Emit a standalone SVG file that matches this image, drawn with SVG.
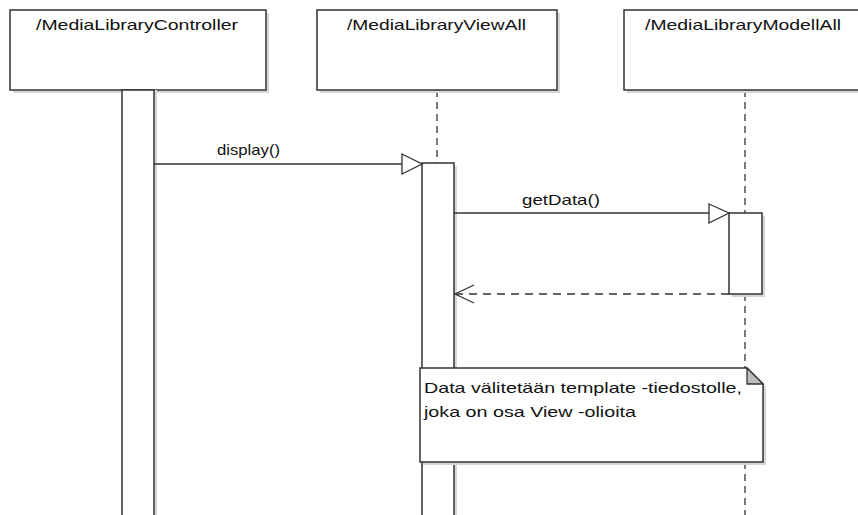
<svg xmlns="http://www.w3.org/2000/svg" width="858" height="515" viewBox="0 0 858 515">
<defs>
<style>
.box{fill:#fff;stroke:#333;stroke-width:1.5}
.shadow{fill:#d6d6d6}
.txt{font-family:"Liberation Sans",Arial,sans-serif;font-size:14.5px;fill:#111}
.life{stroke:#333;stroke-width:1.3;stroke-dasharray:7 5;fill:none}
.msg{stroke:#333;stroke-width:1.3;fill:none}
.ret{stroke:#333;stroke-width:1.3;stroke-dasharray:8 6;fill:none}
.head{fill:#fff;stroke:#333;stroke-width:1.3}
</style>
</defs>
<rect width="858" height="515" fill="#fff"/>
<g id="lifelines">
<line class="life" x1="437" y1="90" x2="437" y2="163"/>
<line class="life" x1="745" y1="90" x2="745" y2="213"/>
<line class="life" x1="745" y1="294" x2="745" y2="515"/>
</g>
<g id="controller">
<rect class="shadow" x="13" y="13" width="256" height="80"/>
<rect class="box" x="10" y="10" width="256" height="80"/>
<text class="txt" x="36" y="30" textLength="202" lengthAdjust="spacingAndGlyphs">/MediaLibraryController</text>
<rect class="shadow" x="125" y="90" width="32" height="430"/>
<rect class="box" x="122" y="90" width="32" height="430"/>
</g>
<g id="viewall">
<rect class="shadow" x="320" y="13" width="240" height="80"/>
<rect class="box" x="317" y="10" width="240" height="80"/>
<text class="txt" x="347" y="30" textLength="179" lengthAdjust="spacingAndGlyphs">/MediaLibraryViewAll</text>
<rect class="shadow" x="425" y="166" width="32" height="360"/>
<rect class="box" x="422" y="163" width="32" height="360"/>
</g>
<g id="modellall">
<rect class="shadow" x="627" y="13" width="240" height="80"/>
<rect class="box" x="624" y="10" width="240" height="80"/>
<text class="txt" x="645" y="30" textLength="196" lengthAdjust="spacingAndGlyphs">/MediaLibraryModellAll</text>
<rect class="shadow" x="732" y="216" width="33" height="81"/>
<rect class="box" x="729" y="213" width="33" height="81"/>
</g>
<g id="connectors">
<line class="msg" x1="154" y1="164" x2="402" y2="164"/>
<polygon class="head" points="402,154 422,164 402,174"/>
<text class="txt" x="217" y="155" textLength="63" lengthAdjust="spacingAndGlyphs">display()</text>
<line class="msg" x1="454" y1="213" x2="709" y2="213"/>
<polygon class="head" points="709,204 729,213 709,223"/>
<text class="txt" x="522" y="205" textLength="78" lengthAdjust="spacingAndGlyphs">getData()</text>
<line class="ret" x1="729" y1="294" x2="455" y2="294"/>
<polyline class="msg" points="474,285 455,294 474,303"/>
</g>
<g id="note">
<polygon class="shadow" points="423,371 750,371 766,387 766,465 423,465"/>
<polygon class="box" points="420,368 747,368 763,384 763,462 420,462"/>
<polygon points="747,368 763,384 747,384" fill="#bdbdbd" stroke="#333" stroke-width="1.3"/>
<text class="txt" x="424" y="393" textLength="318" lengthAdjust="spacingAndGlyphs">Data välitetään template -tiedostolle,</text>
<text class="txt" x="424" y="417" textLength="212" lengthAdjust="spacingAndGlyphs">joka on osa View -olioita</text>
</g>
</svg>
